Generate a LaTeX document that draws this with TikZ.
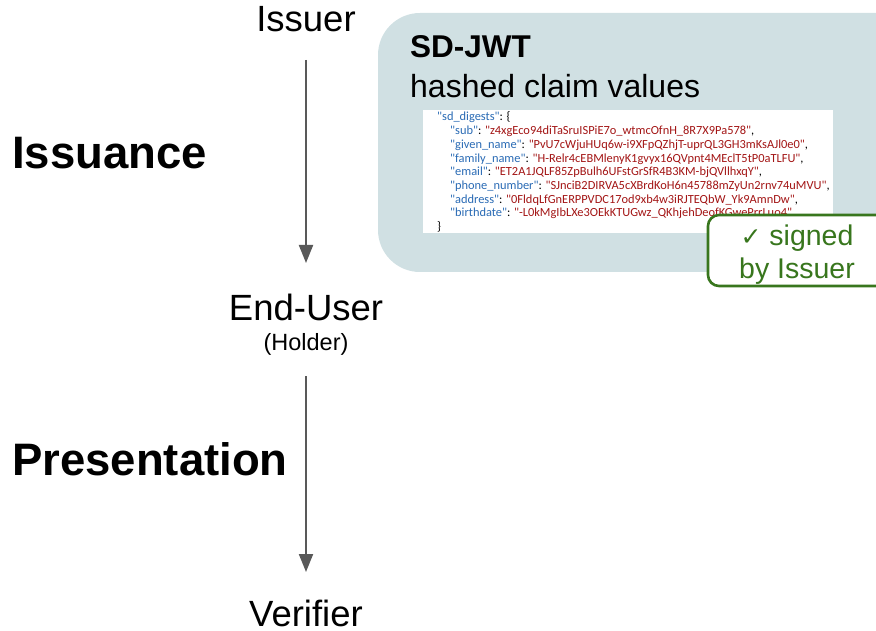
\documentclass[tikz,border=0pt]{standalone}
\usepackage{fontspec}
\usetikzlibrary{arrows.meta}
\setmainfont{Liberation Sans}
\newfontfamily\dejavu{DejaVu Sans}
\newfontfamily\codefont{Carlito}
\definecolor{boxbg}{HTML}{D0E0E3}
\definecolor{arrowgray}{HTML}{595959}
\definecolor{signgreen}{HTML}{38761D}
\definecolor{keyblue}{HTML}{2A6BB5}
\definecolor{valred}{HTML}{A31515}
\newcommand{\jk}[1]{\textcolor{keyblue}{"#1"}}
\newcommand{\jv}[1]{\textcolor{valred}{"#1"}}
\begin{document}
\begin{tikzpicture}[x=1pt,y=-1pt,
  actor/.style={font=\fontsize{36.5}{40}\selectfont, inner sep=0pt, anchor=base},
  phase/.style={font=\fontsize{45.5}{50}\selectfont\bfseries, inner sep=0pt, anchor=base west},
  flow/.style={draw=arrowgray, line width=2pt, -{Triangle[width=14pt,length=18pt]}},
  codeline/.style={font=\codefont\fontsize{12.4}{14}\selectfont, inner sep=0pt, anchor=base west},
  signtext/.style={font=\fontsize{28.5}{32}\selectfont, text=signgreen, inner sep=0pt, anchor=base}
]
\useasboundingbox (0,0) rectangle (876,631);
% rounded SD-JWT panel
\fill[boxbg, rounded corners=42pt] (378,13) rectangle (920,272);
\node[anchor=base west, inner sep=0pt, font=\fontsize{31.5}{34}\selectfont\bfseries] (sdjwt) at (410,58) {SD-JWT};
\node[anchor=base west, inner sep=0pt, font=\fontsize{32}{34}\selectfont] (hashed) at (410,98) {hashed claim values};
% code box
\fill[white] (423,110) rectangle (833,233);
\node[codeline] (c0) at (437,121) {\jk{sd\_digests}: \{};
\node[codeline] (c1) at (450,134.7) {\jk{sub}: \jv{z4xgEco94diTaSruISPiE7o\_wtmcOfnH\_8R7X9Pa578},};
\node[codeline] (c2) at (450,148.4) {\jk{given\_name}: \jv{PvU7cWjuHUq6w-i9XFpQZhjT-uprQL3GH3mKsAJl0e0},};
\node[codeline] (c3) at (450,162.1) {\jk{family\_name}: \jv{H-Relr4cEBMlenyK1gvyx16QVpnt4MEclT5tP0aTLFU},};
\node[codeline] (c4) at (450,175.8) {\jk{email}: \jv{ET2A1JQLF85ZpBulh6UFstGrSfR4B3KM-bjQVllhxqY},};
\node[codeline] (c5) at (450,189.5) {\jk{phone\_number}: \jv{SJnciB2DIRVA5cXBrdKoH6n45788mZyUn2rnv74uMVU},};
\node[codeline] (c6) at (450,203.2) {\jk{address}: \jv{0FldqLfGnERPPVDC17od9xb4w3iRJTEQbW\_Yk9AmnDw},};
\node[codeline] (c7) at (450,216.9) {\jk{birthdate}: \jv{-L0kMgIbLXe3OEkKTUGwz\_QKhjehDeofKGwePrrLuo4},};
\node[codeline] (c8) at (437,230.6) {\}};
% signed badge
\draw[signgreen, line width=2.6pt, fill=white, rounded corners=11pt] (708,215) rectangle (900,286);
\node[signtext] (signed) at (797,246) {{\dejavu\fontsize{25}{28}\selectfont ✓} signed};
\node[signtext] (byissuer) at (797,279) {by Issuer};
% actors
\node[actor] (issuer) at (306,32) {Issuer};
\node[actor] (enduser) at (306,320) {End-User};
\node[inner sep=0pt, anchor=base, font=\fontsize{23.5}{26}\selectfont] (holder) at (306,350) {(Holder)};
\node[actor] (verifier) at (306,626) {Verifier};
% phases
\node[phase] (issuance) at (12,169) {Issuance};
\node[phase] (presentation) at (12,475) {Presentation};
% arrows
\coordinate (a1s) at (306,60);
\coordinate (a1e) at (306,263);
\coordinate (a2s) at (306,376);
\coordinate (a2e) at (306,572);
\draw[flow] (a1s) -- (a1e);
\draw[flow] (a2s) -- (a2e);
\end{tikzpicture}
\end{document}
